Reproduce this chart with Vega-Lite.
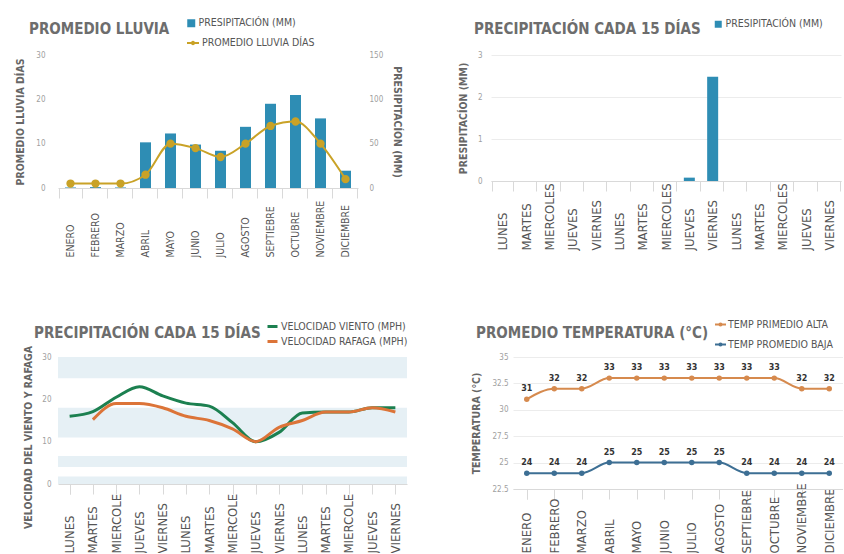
{
  "$schema": "https://vega.github.io/schema/vega-lite/v6.json",
  "background": "white",
  "padding": {"left": 15, "top": 18, "right": 0, "bottom": 0},
  "bounds": "flush",
  "spacing": 302,
  "config": {
    "view": {"stroke": null},
    "font": "Liberation Sans Narrow, DejaVu Sans Condensed, sans-serif",
    "title": {"font": "Liberation Sans Narrow, DejaVu Sans Condensed, sans-serif", "fontWeight": "bold", "fontSize": 15, "color": "#6d6d6d", "anchor": "start", "frame": "group", "baseline": "alphabetic", "offset": 9},
    "axis": {"labelFont": "Liberation Sans Narrow, DejaVu Sans Condensed, sans-serif", "labelFontSize": 8, "labelColor": "#a0a0a0", "titleFont": "Liberation Sans Narrow, DejaVu Sans Condensed, sans-serif", "titleFontWeight": "bold", "titleFontSize": 10.5, "titleColor": "#666666", "gridColor": "#ececec", "domainColor": "#d9d9d9", "tickColor": "#d9d9d9", "ticks": false},
    "axisX": {"ticks": true, "tickSize": 10, "tickBand": "extent", "labelAngle": -90, "labelAlign": "left", "labelBaseline": "middle", "labelColor": "#555555", "grid": false, "labelPadding": 59},
    "axisY": {"domain": false, "grid": true},
    "legend": {"orient": "none", "labelFont": "Liberation Sans Narrow, DejaVu Sans Condensed, sans-serif", "labelFontSize": 10.5, "labelColor": "#555555", "labelOffset": 2, "padding": 0}
  },
  "vconcat": [
    {
      "bounds": "flush",
      "spacing": 133,
      "hconcat": [
        {
          "width": 300,
          "height": 133,
          "title": {"text": "PROMEDIO LLUVIA", "dx": -29, "dy": 28},
          "data": {"values": [
            {"mes": "ENERO", "mm": 0.6, "dias": 1},
            {"mes": "FEBRERO", "mm": 1, "dias": 1},
            {"mes": "MARZO", "mm": 0.6, "dias": 1},
            {"mes": "ABRIL", "mm": 51.5, "dias": 3},
            {"mes": "MAYO", "mm": 61.5, "dias": 10},
            {"mes": "JUNIO", "mm": 49, "dias": 9},
            {"mes": "JULIO", "mm": 42, "dias": 7},
            {"mes": "AGOSTO", "mm": 69, "dias": 10},
            {"mes": "SEPTIEBRE", "mm": 95, "dias": 14},
            {"mes": "OCTUBRE", "mm": 105, "dias": 15},
            {"mes": "NOVIEMBRE", "mm": 78.5, "dias": 10},
            {"mes": "DICIEMBRE", "mm": 19.5, "dias": 2}
          ]},
          "encoding": {
            "x": {"field": "mes", "type": "nominal", "sort": null, "axis": {"title": null, "labelFontSize": 10.5}}
          },
          "layer": [
            {
              "mark": {"type": "bar", "size": 11},
              "encoding": {
                "y": {"field": "mm", "type": "quantitative", "scale": {"domain": [0, 150]}, "axis": {"orient": "right", "title": "PRESIPITACÍON (MM)", "titleAngle": 90, "values": [0, 50, 100, 150], "grid": false, "labelPadding": 11, "titlePadding": 9}},
                "fill": {"datum": "PRESIPITACIÓN (MM)", "type": "nominal", "scale": {"range": ["#2e8db4"]}, "legend": {"symbolType": "square", "symbolSize": 64, "legendX": 128, "legendY": -37}}
              }
            },
            {
              "mark": {"type": "line", "interpolate": "monotone", "strokeWidth": 2, "point": {"filled": true, "size": 40, "color": "#c9a227"}},
              "encoding": {
                "y": {"field": "dias", "type": "quantitative", "scale": {"domain": [0, 30]}, "axis": {"orient": "left", "title": "PROMEDIO LLUVIA DÍAS", "values": [0, 10, 20, 30], "labelPadding": 13, "titlePadding": 10}},
                "stroke": {"datum": "PROMEDIO LLUVIA DÍAS", "type": "nominal", "scale": {"range": ["#c9a227"]}, "legend": {"symbolType": "M-1,0L1,0M-0.2,0A0.2,0.2,0,1,0,0.2,0A0.2,0.2,0,1,0,-0.2,0", "symbolSize": 144, "symbolStrokeWidth": 2, "legendX": 128, "legendY": -19}}
              }
            }
          ],
          "resolve": {"scale": {"y": "independent", "fill": "independent", "stroke": "independent"}}
        },
        {
          "width": 350,
          "height": 126,
          "title": {"text": "PRECIPITACIÓN CADA 15 DÍAS", "dx": -17, "offset": 14},
          "data": {"values": [
            {"d": "LUNES 1", "mm": 0}, {"d": "MARTES 1", "mm": 0}, {"d": "MIERCOLES 1", "mm": 0}, {"d": "JUEVES 1", "mm": 0}, {"d": "VIERNES 1", "mm": 0},
            {"d": "LUNES 2", "mm": 0}, {"d": "MARTES 2", "mm": 0}, {"d": "MIERCOLES 2", "mm": 0}, {"d": "JUEVES 2", "mm": 0.08}, {"d": "VIERNES 2", "mm": 2.48},
            {"d": "LUNES 3", "mm": 0}, {"d": "MARTES 3", "mm": 0}, {"d": "MIERCOLES 3", "mm": 0}, {"d": "JUEVES 3", "mm": 0}, {"d": "VIERNES 3", "mm": 0}
          ]},
          "mark": {"type": "bar", "size": 11},
          "encoding": {
            "x": {"field": "d", "type": "nominal", "sort": null, "axis": {"title": null, "labelFontSize": 13, "labelExpr": "split(datum.label, ' ')[0]"}},
            "y": {"field": "mm", "type": "quantitative", "scale": {"domain": [0, 3]}, "axis": {"title": "PRESIPITACÍON (MM)", "values": [0, 1, 2, 3], "labelPadding": 9, "titlePadding": 9}},
            "fill": {"datum": "PRESIPITACIÓN (MM)", "type": "nominal", "scale": {"range": ["#2e8db4"]}, "legend": {"symbolType": "square", "symbolSize": 49, "legendX": 655, "legendY": -36}}
          }
        }
      ]
    },
    {
      "bounds": "flush",
      "spacing": 106,
      "hconcat": [
        {
          "width": 349,
          "height": 127,
          "title": {"text": "PRECIPITACIÓN CADA 15 DÍAS", "dx": -24, "offset": 4},
          "layer": [
            {
              "data": {"values": [
                {"y0": 25, "y1": 30}, {"y0": 11, "y1": 18}, {"y0": 4, "y1": 6.6}, {"y0": 0, "y1": 1.8}
              ]},
              "mark": {"type": "rect", "color": "#e6f0f5"},
              "encoding": {
                "y": {"field": "y0", "type": "quantitative", "scale": {"domain": [0, 30]}, "axis": {"title": "VELOCIDAD DEL VIENTO Y RAFAGA", "values": [0, 10, 20, 30], "grid": false, "labelPadding": 7, "titleX": -24.5, "titleY": 80}},
                "y2": {"field": "y1"}
              }
            },
            {
              "data": {"values": [
                {"d": "LUNES 1", "serie": "VELOCIDAD VIENTO (MPH)", "v": 16},
                {"d": "MARTES 1", "serie": "VELOCIDAD VIENTO (MPH)", "v": 17.1},
                {"d": "MIERCOLE 1", "serie": "VELOCIDAD VIENTO (MPH)", "v": 20.5},
                {"d": "JUEVES 1", "serie": "VELOCIDAD VIENTO (MPH)", "v": 23},
                {"d": "VIERNES 1", "serie": "VELOCIDAD VIENTO (MPH)", "v": 20.8},
                {"d": "LUNES 2", "serie": "VELOCIDAD VIENTO (MPH)", "v": 19.1},
                {"d": "MARTES 2", "serie": "VELOCIDAD VIENTO (MPH)", "v": 18.4},
                {"d": "MIERCOLE 2", "serie": "VELOCIDAD VIENTO (MPH)", "v": 14.5},
                {"d": "JUEVES 2", "serie": "VELOCIDAD VIENTO (MPH)", "v": 10},
                {"d": "VIERNES 2", "serie": "VELOCIDAD VIENTO (MPH)", "v": 12.2},
                {"d": "LUNES 3", "serie": "VELOCIDAD VIENTO (MPH)", "v": 16.8},
                {"d": "MARTES 3", "serie": "VELOCIDAD VIENTO (MPH)", "v": 17},
                {"d": "MIERCOLE 3", "serie": "VELOCIDAD VIENTO (MPH)", "v": 17},
                {"d": "JUEVES 3", "serie": "VELOCIDAD VIENTO (MPH)", "v": 18},
                {"d": "VIERNES 3", "serie": "VELOCIDAD VIENTO (MPH)", "v": 18},
                {"d": "MARTES 1", "serie": "VELOCIDAD RAFAGA (MPH)", "v": 15.2},
                {"d": "MIERCOLE 1", "serie": "VELOCIDAD RAFAGA (MPH)", "v": 19},
                {"d": "JUEVES 1", "serie": "VELOCIDAD RAFAGA (MPH)", "v": 19},
                {"d": "VIERNES 1", "serie": "VELOCIDAD RAFAGA (MPH)", "v": 18},
                {"d": "LUNES 2", "serie": "VELOCIDAD RAFAGA (MPH)", "v": 16},
                {"d": "MARTES 2", "serie": "VELOCIDAD RAFAGA (MPH)", "v": 15},
                {"d": "MIERCOLE 2", "serie": "VELOCIDAD RAFAGA (MPH)", "v": 13},
                {"d": "JUEVES 2", "serie": "VELOCIDAD RAFAGA (MPH)", "v": 10},
                {"d": "VIERNES 2", "serie": "VELOCIDAD RAFAGA (MPH)", "v": 13.4},
                {"d": "LUNES 3", "serie": "VELOCIDAD RAFAGA (MPH)", "v": 15},
                {"d": "MARTES 3", "serie": "VELOCIDAD RAFAGA (MPH)", "v": 17},
                {"d": "MIERCOLE 3", "serie": "VELOCIDAD RAFAGA (MPH)", "v": 17},
                {"d": "JUEVES 3", "serie": "VELOCIDAD RAFAGA (MPH)", "v": 18},
                {"d": "VIERNES 3", "serie": "VELOCIDAD RAFAGA (MPH)", "v": 17}
              ]},
              "mark": {"type": "line", "interpolate": "monotone", "strokeWidth": 3},
              "encoding": {
                "x": {"field": "d", "type": "nominal", "sort": null, "axis": {"title": null, "labelFontSize": 13, "labelExpr": "split(datum.label, ' ')[0]"}},
                "y": {"field": "v", "type": "quantitative"},
                "stroke": {"field": "serie", "type": "nominal", "sort": null, "scale": {"domain": ["VELOCIDAD VIENTO (MPH)", "VELOCIDAD RAFAGA (MPH)"], "range": ["#1c8050", "#dc7438"]}, "legend": {"title": null, "symbolType": "stroke", "symbolSize": 100, "symbolStrokeWidth": 3, "rowPadding": 2, "legendX": 208, "legendY": 265}}
              }
            }
          ]
        },
        {
          "width": 330,
          "height": 132,
          "title": {"text": "PROMEDIO TEMPERATURA (°C)", "dx": -37, "offset": 12},
          "data": {"values": [
            {"mes": "ENERO", "serie": "TEMP PRIMEDIO ALTA", "t": 31},
            {"mes": "FEBRERO", "serie": "TEMP PRIMEDIO ALTA", "t": 32},
            {"mes": "MARZO", "serie": "TEMP PRIMEDIO ALTA", "t": 32},
            {"mes": "ABRIL", "serie": "TEMP PRIMEDIO ALTA", "t": 33},
            {"mes": "MAYO", "serie": "TEMP PRIMEDIO ALTA", "t": 33},
            {"mes": "JUNIO", "serie": "TEMP PRIMEDIO ALTA", "t": 33},
            {"mes": "JULIO", "serie": "TEMP PRIMEDIO ALTA", "t": 33},
            {"mes": "AGOSTO", "serie": "TEMP PRIMEDIO ALTA", "t": 33},
            {"mes": "SEPTIEBRE", "serie": "TEMP PRIMEDIO ALTA", "t": 33},
            {"mes": "OCTUBRE", "serie": "TEMP PRIMEDIO ALTA", "t": 33},
            {"mes": "NOVIEMBRE", "serie": "TEMP PRIMEDIO ALTA", "t": 32},
            {"mes": "DICIEMBRE", "serie": "TEMP PRIMEDIO ALTA", "t": 32},
            {"mes": "ENERO", "serie": "TEMP PROMEDIO BAJA", "t": 24},
            {"mes": "FEBRERO", "serie": "TEMP PROMEDIO BAJA", "t": 24},
            {"mes": "MARZO", "serie": "TEMP PROMEDIO BAJA", "t": 24},
            {"mes": "ABRIL", "serie": "TEMP PROMEDIO BAJA", "t": 25},
            {"mes": "MAYO", "serie": "TEMP PROMEDIO BAJA", "t": 25},
            {"mes": "JUNIO", "serie": "TEMP PROMEDIO BAJA", "t": 25},
            {"mes": "JULIO", "serie": "TEMP PROMEDIO BAJA", "t": 25},
            {"mes": "AGOSTO", "serie": "TEMP PROMEDIO BAJA", "t": 25},
            {"mes": "SEPTIEBRE", "serie": "TEMP PROMEDIO BAJA", "t": 24},
            {"mes": "OCTUBRE", "serie": "TEMP PROMEDIO BAJA", "t": 24},
            {"mes": "NOVIEMBRE", "serie": "TEMP PROMEDIO BAJA", "t": 24},
            {"mes": "DICIEMBRE", "serie": "TEMP PROMEDIO BAJA", "t": 24}
          ]},
          "encoding": {
            "x": {"field": "mes", "type": "nominal", "sort": null, "axis": {"title": null, "labelFontSize": 13, "labelPadding": 54}},
            "y": {"field": "t", "type": "quantitative", "scale": {"domain": [22.5, 35], "nice": false}, "axis": {"title": "TEMPERATURA (°C)", "values": [22.5, 25, 27.5, 30, 32.5, 35], "format": ".3~r", "labelPadding": 5, "titlePadding": 10}}
          },
          "layer": [
            {
              "mark": {"type": "line", "interpolate": "monotone", "strokeWidth": 2, "point": {"filled": true, "size": 30}},
              "encoding": {
                "color": {"field": "serie", "type": "nominal", "sort": null, "scale": {"domain": ["TEMP PRIMEDIO ALTA", "TEMP PROMEDIO BAJA"], "range": ["#d68a4e", "#3d6f94"]}, "legend": {"title": null, "symbolType": "M-1,0L1,0M-0.2,0A0.2,0.2,0,1,0,0.2,0A0.2,0.2,0,1,0,-0.2,0", "symbolSize": 121, "symbolStrokeWidth": 2, "rowPadding": 8, "labelOffset": 1, "legendX": 656, "legendY": 263}}
              }
            },
            {
              "mark": {"type": "text", "dy": -10, "fontSize": 8, "fontWeight": "bold", "color": "#333333", "font": "DejaVu Sans"},
              "encoding": {"text": {"field": "t", "type": "quantitative"}}
            }
          ]
        }
      ]
    }
  ]
}
